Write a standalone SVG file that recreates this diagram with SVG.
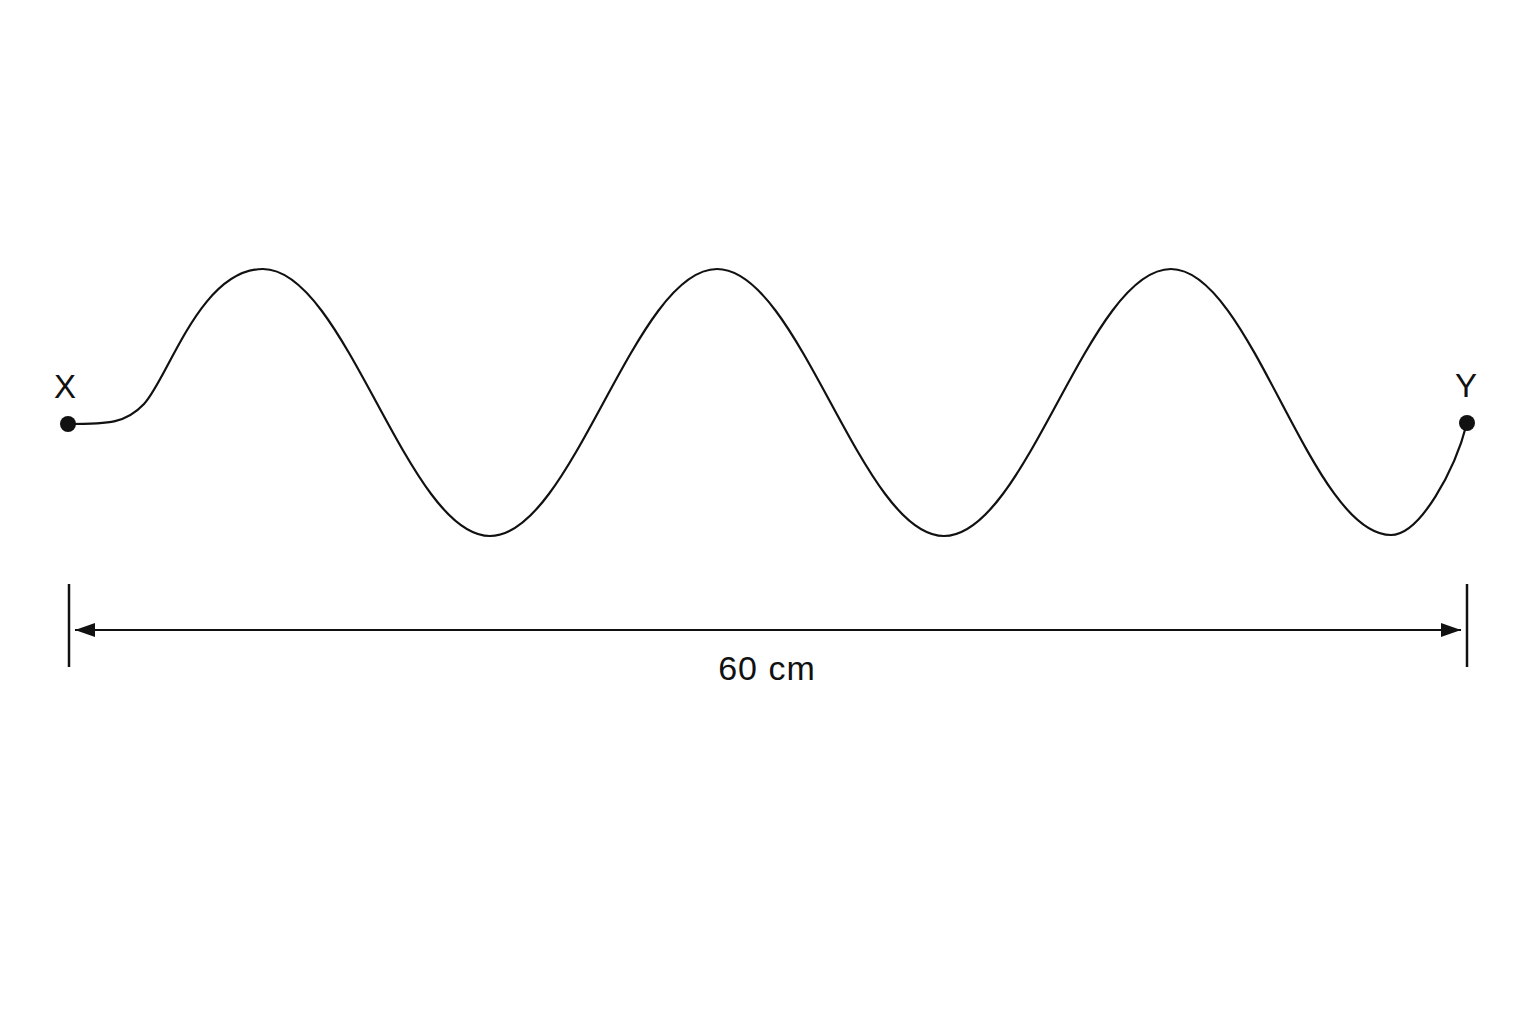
<svg xmlns="http://www.w3.org/2000/svg" width="1536" height="1024" viewBox="0 0 1536 1024">
<style>
.lbl{font-family:"Liberation Sans",Arial,sans-serif;fill:#111}
.ln{stroke:#111;fill:none}
</style>
<defs>
<marker id="ah" viewBox="0 0 20 14" refX="20" refY="7" markerWidth="20" markerHeight="14" markerUnits="userSpaceOnUse" orient="auto-start-reverse">
<path d="M0,0 L20,7 L0,14 Z" fill="#111"/>
</marker>
</defs>
<rect width="1536" height="1024" fill="#fff"/>
<g id="wave">
<path class="ln" stroke-width="2.2" d="M68,424 C110,424 126,423 144,404 C168,379 200,269 263,269 C345.5,269 407.5,536 490,536 C572.5,536 634.5,269 717,269 C799.5,269 861.5,536 944,536 C1026.5,536 1088.5,269 1171,269 C1251,269 1311,535 1391,535 C1420,535 1455,470 1467,423"/>
</g>
<g id="X">
<circle cx="68" cy="424" r="8" fill="#111"/>
<text class="lbl" x="65" y="398" font-size="33" text-anchor="middle">X</text>
</g>
<g id="Y">
<circle cx="1467" cy="423" r="8" fill="#111"/>
<text class="lbl" x="1466" y="397" font-size="33" text-anchor="middle">Y</text>
</g>
<g id="dimension">
<line class="ln" stroke-width="2.5" x1="69" y1="584" x2="69" y2="667"/>
<line class="ln" stroke-width="2.5" x1="1467" y1="584" x2="1467" y2="667"/>
<line class="ln" stroke-width="2" x1="75" y1="630" x2="1461" y2="630" marker-start="url(#ah)" marker-end="url(#ah)"/>
<text class="lbl" x="767" y="680" font-size="34" letter-spacing="1" text-anchor="middle">60 cm</text>
</g>
</svg>
